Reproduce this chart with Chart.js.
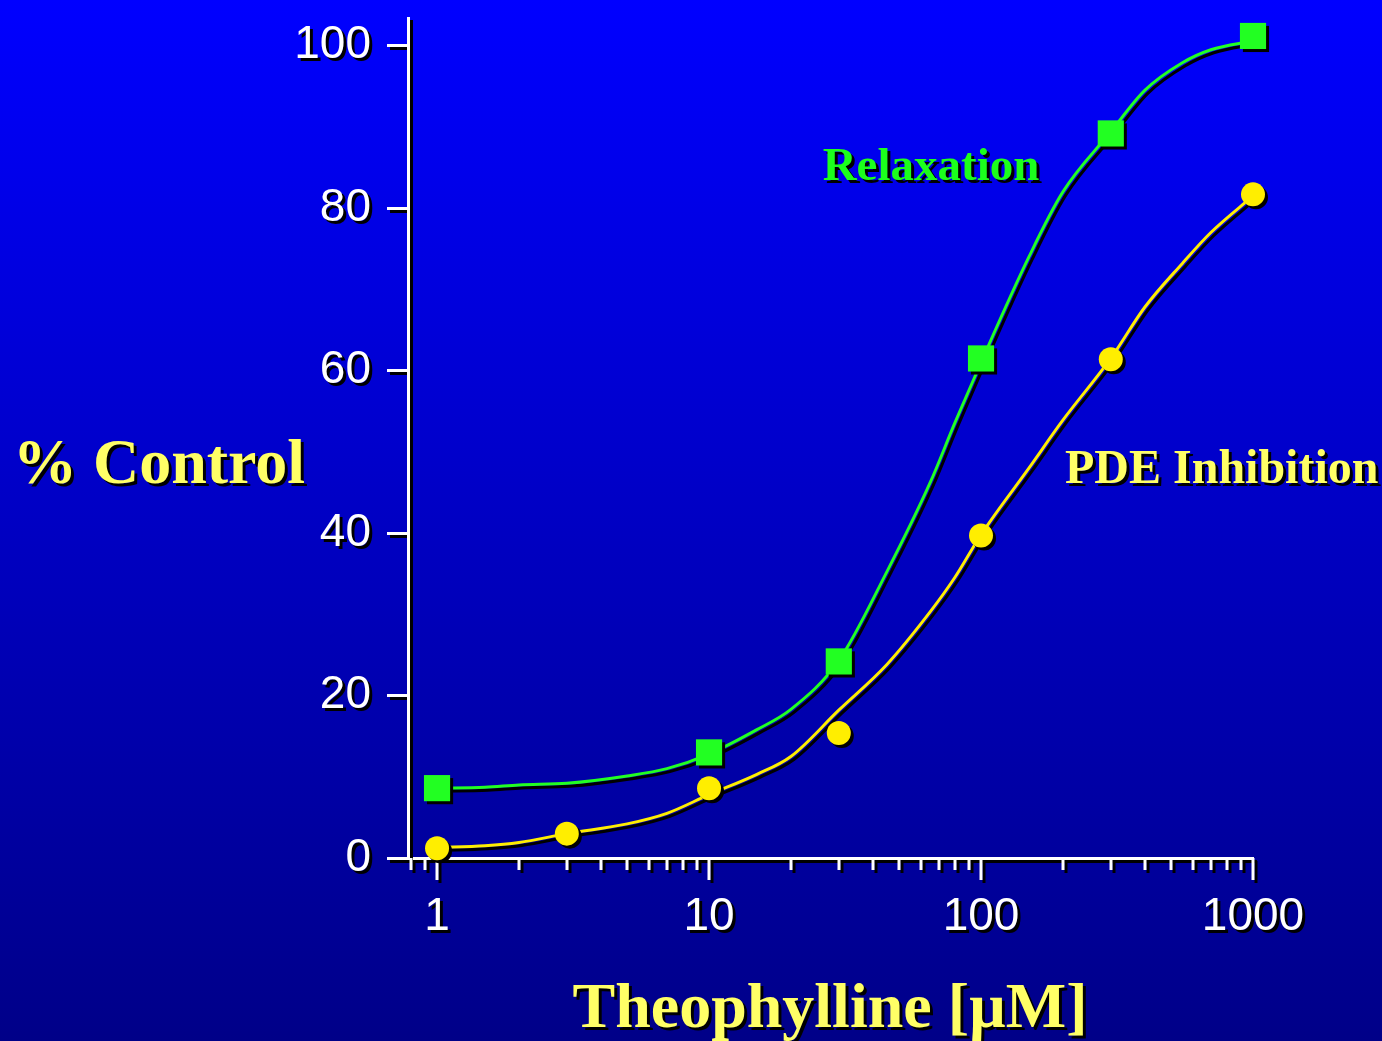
<!DOCTYPE html>
<html>
<head>
<meta charset="utf-8">
<script src="https://cdn.jsdelivr.net/npm/chart.js@4.4.1/dist/chart.umd.min.js"></script>
<style>
  html, body { margin: 0; padding: 0; background: #0000c0; }
  canvas { display: block; }
</style>
</head>
<body>
<canvas id="chart" width="1382" height="1041"></canvas>
<script>
// theophylline dose-response, values

// measured points
const relaxDoses = [1, 10, 30, 100, 300, 1000];
const relaxValues = [8.6, 13.0, 24.2, 61.5, 89.2, 101.2];
const pdeDoses = [1, 3, 10, 30, 100, 300, 1000];
const pdeValues = [1.2, 3.0, 8.6, 15.4, 39.7, 61.4, 81.7];

// fitted curves
const curveDoses = [1, 1.5, 2, 3, 5, 7, 10, 15, 20, 30, 45, 65, 80, 100, 150, 200, 300, 400, 550, 700, 1000];
const relaxCurve = [8.6, 8.7, 9.0, 9.2, 10.1, 11.0, 12.8, 15.8, 18.3, 24.3, 35.2, 46.2, 53.5, 61.0, 74.0, 82.0, 89.4, 94.5, 97.9, 99.5, 100.6];
const pdeCurve = [1.3, 1.5, 1.9, 3.0, 4.2, 5.5, 7.8, 10.3, 12.5, 18.2, 23.8, 30.3, 34.5, 39.8, 48.0, 53.9, 61.5, 67.8, 73.2, 77.0, 81.5];

const xTickValues = [0.8, 0.9,
  1, 2, 3, 4, 5, 6, 7, 8, 9,
  10, 20, 30, 40, 50, 60, 70, 80, 90,
  100, 200, 300, 400, 500, 600, 700, 800, 900, 1000];
const xLabels = [1, 10, 100, 1000];
const yTickValues = [0, 20, 40, 60, 80, 100];

const GREEN = '#22ff22';
const YELLOW = '#ffee00';
const PALE = '#ffff66';

const pts = (xs, ys) => xs.map((x, i) => ({x, y: ys[i]}));

const slideLook = {
  id: 'slideLook',
  beforeDraw(chart) {
    const {ctx, width, height} = chart;
    const g = ctx.createLinearGradient(0, 0, 0, height);
    g.addColorStop(0, '#0000ff');
    g.addColorStop(1, '#000088');
    ctx.save();
    ctx.fillStyle = g;
    ctx.fillRect(0, 0, width, height);
    ctx.restore();
    // everything on the slide has a hard drop shadow
    ctx.shadowColor = '#000000';
    ctx.shadowOffsetX = 3;
    ctx.shadowOffsetY = 3;
    ctx.shadowBlur = 0;
  },
  beforeDatasetsDraw(chart) {
    // log ticks hang below the axis, longer at each decade
    const sx = chart.scales.x;
    const ctx = chart.ctx;
    ctx.save();
    ctx.strokeStyle = '#ffffff';
    ctx.lineWidth = 3;
    sx.ticks.forEach(t => {
      const px = Math.round(sx.getPixelForValue(t.value));
      const len = xLabels.includes(t.value) ? 22 : 12;
      ctx.beginPath();
      ctx.moveTo(px, sx.top);
      ctx.lineTo(px, sx.top + len);
      ctx.stroke();
    });
    ctx.restore();
  },
  afterDraw(chart) {
    const ctx = chart.ctx;
    ctx.save();
    ctx.textBaseline = 'alphabetic';
    ctx.font = 'bold 64px "Liberation Serif"';
    ctx.fillStyle = PALE;
    ctx.textAlign = 'center';
    ctx.fillText('% Control', 159, 483);
    ctx.fillText('Theophylline [µM]', 830, 1027);
    ctx.font = 'bold 47px "Liberation Serif"';
    ctx.fillStyle = '#1cff1c';
    ctx.fillText('Relaxation', 931, 180);
    ctx.font = 'bold 48px "Liberation Serif"';
    ctx.fillStyle = PALE;
    ctx.textAlign = 'left';
    ctx.fillText('PDE Inhibition', 1065, 483);
    ctx.restore();
    ctx.shadowColor = 'rgba(0,0,0,0)';
    ctx.shadowOffsetX = 0;
    ctx.shadowOffsetY = 0;
  }
};

const ctx = document.getElementById('chart').getContext('2d');
new Chart(ctx, {
  type: 'line',
  data: {
    datasets: [{
      label: 'Relaxation',
      data: pts(relaxDoses, relaxValues),
      showLine: false,
      pointStyle: 'rect',
      pointRadius: 18.5,
      backgroundColor: GREEN,
      borderColor: GREEN,
      pointBorderWidth: 0,
      clip: false,
      order: 0
    }, {
      label: 'PDE Inhibition',
      data: pts(pdeDoses, pdeValues),
      showLine: false,
      pointStyle: 'circle',
      pointRadius: 12,
      backgroundColor: YELLOW,
      borderColor: YELLOW,
      pointBorderWidth: 0,
      clip: false,
      order: 0
    }, {
      label: 'Relaxation fit',
      data: pts(curveDoses, relaxCurve),
      borderColor: GREEN,
      borderWidth: 3,
      pointRadius: 0,
      cubicInterpolationMode: 'monotone',
      fill: false,
      clip: false,
      order: 1
    }, {
      label: 'PDE fit',
      data: pts(curveDoses, pdeCurve),
      borderColor: YELLOW,
      borderWidth: 3,
      pointRadius: 0,
      cubicInterpolationMode: 'monotone',
      fill: false,
      clip: false,
      order: 1
    }]
  },
  options: {
    responsive: false,
    animation: false,
    events: [],
    layout: { padding: { top: 7, right: 129, bottom: 0, left: 0 } },
    plugins: { legend: { display: false }, tooltip: { enabled: false } },
    scales: {
      x: {
        type: 'logarithmic',
        min: 0.782,
        max: 1000,
        afterBuildTicks: s => { s.ticks = xTickValues.map(v => ({value: v})); },
        afterFit: s => { s.height = 183; s.paddingLeft = 0; s.paddingRight = 0; },
        border: { display: true, color: '#ffffff', width: 3 },
        grid: { display: false, drawTicks: true, tickLength: 20 },
        ticks: {
          autoSkip: false,
          maxRotation: 0,
          padding: 12,
          color: '#ffffff',
          font: { family: '"Liberation Sans"', size: 46 },
          callback: v => xLabels.includes(v) ? String(v) : ''
        }
      },
      y: {
        type: 'linear',
        min: 0,
        max: 103.35,
        afterBuildTicks: s => { s.ticks = yTickValues.map(v => ({value: v})); },
        afterFit: s => { s.width = 408; s.paddingTop = 0; s.paddingBottom = 0; },
        border: { display: true, color: '#ffffff', width: 3 },
        grid: { drawOnChartArea: false, drawTicks: true, tickLength: 21, color: '#ffffff', lineWidth: 3 },
        ticks: {
          padding: 16,
          color: '#ffffff',
          font: { family: '"Liberation Sans"', size: 46 }
        }
      }
    }
  },
  plugins: [slideLook]
});
</script>
</body>
</html>
